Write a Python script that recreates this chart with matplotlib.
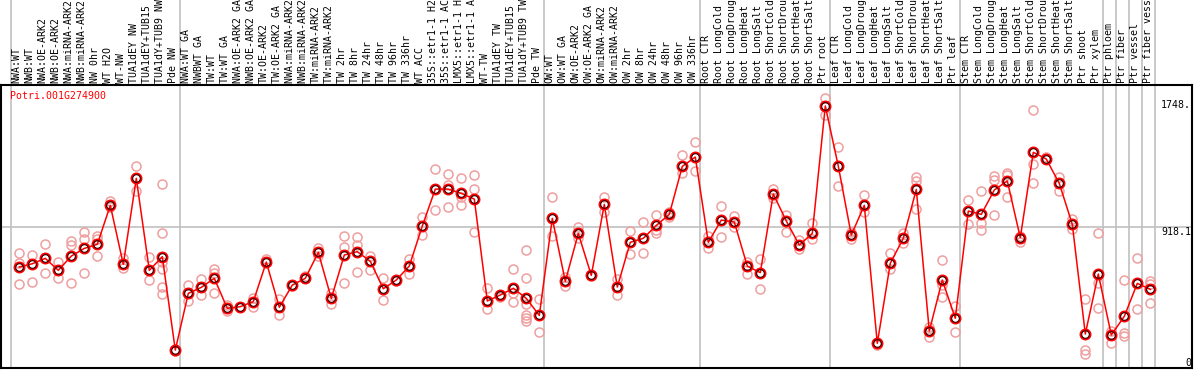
#!/usr/bin/python3
import matplotlib
matplotlib.use('Agg')
import matplotlib.pyplot as plt
import matplotlib.transforms as mtrans

## sample names, grouped as in the reference
labels = ['NWA:WT', 'NWB:WT', 'NWA:OE-ARK2', 'NWB:OE-ARK2', 'NWA:miRNA-ARK2', 'NWB:miRNA-ARK2',
          'NW 0hr', 'WT H2O', 'WT-NW', 'TUA1dEY NW', 'TUA1dEY+TUB15 NW', 'TUA1dY+TUB9 NW', 'Pde NW',
          'NWA:WT GA', 'NWBWT GA', 'TW:WT', 'TW:WT GA', 'NWA:OE-ARK2 GA', 'NWB:OE-ARK2 GA',
          'TW:OE-ARK2', 'TW:OE-ARK2 GA', 'NWA:miRNA-ARK2 GA', 'NWB:miRNA-ARK2 GA', 'TW:miRNA-ARK2',
          'TW:miRNA-ARK2 GA', 'TW 2hr', 'TW 8hr', 'TW 24hr', 'TW 48hr', 'TW 96hr', 'TW 336hr',
          'WT ACC', '35S::etr1-1 H2O', '35S::etr1-1 ACC', 'LMX5::etr1-1 H2O', 'LMX5::etr1-1 ACC',
          'WT-TW', 'TUA1dEY TW', 'TUA1dEY+TUB15 TW', 'TUA1dY+TUB9 TW', 'Pde TW',
          'OW:WT', 'OW:WT GA', 'OW:OE-ARK2', 'OW:OE-ARK2 GA', 'OW:miRNA-ARK2', 'OW:miRNA-ARK2 GA',
          'OW 2hr', 'OW 8hr', 'OW 24hr', 'OW 48hr', 'OW 96hr', 'OW 336hr',
          'Root CTR', 'Root LongCold', 'Root LongDroug', 'Root LongHeat', 'Root LongSalt',
          'Root ShortCold', 'Root ShortDrou', 'Root ShortHeat', 'Root ShortSalt', 'Ptr root',
          'Leaf CTR', 'Leaf LongCold', 'Leaf LongDroug', 'Leaf LongHeat', 'Leaf LongSalt',
          'Leaf ShortCold', 'Leaf ShortDrou', 'Leaf ShortHeat', 'Leaf ShortSalt', 'Ptr leaf',
          'Stem CTR', 'Stem LongCold', 'Stem LongDroug', 'Stem LongHeat', 'Stem LongSalt',
          'Stem ShortCold', 'Stem ShortDrou', 'Stem ShortHeat', 'Stem ShortSalt', 'Ptr shoot',
          'Ptr xylem', 'Ptr phloem', 'Ptr fiber', 'Ptr vessel', 'Ptr fiber vessel']
group_sizes = [13, 28, 12, 10, 10, 11, 1, 1, 1, 1]

## mean expression per sample
means = [659, 680, 715, 637, 730, 780, 807, 1061, 676, 1237, 637, 726, 117,
         487, 526, 585, 389, 400, 433, 691, 396, 541, 585, 754, 454, 737, 759, 696, 517, 574, 665,
         926, 1167, 1167, 1139, 1102, 437, 476, 520, 454, 343,
         976, 565, 878, 604, 1067, 528, 820, 846, 930, 1002, 1315, 1376,
         820, 965, 952, 665, 622, 1135, 959, 802, 878, 1709,
         1317, 867, 1061, 161, 683, 846, 1165, 241, 574, 324,
         1024, 1002, 1161, 1220, 850, 1407, 1363, 1204, 937, 222,
         613, 215, 337, 552, 513]

## replicate values per sample
reps = [[750, 683, 546], [737, 559, 680], [809, 620, 715], [689, 585, 637], [830, 800, 554],
        [887, 841, 617], [863, 841, 728], [1087, 1052], [715, 654], [1315, 1154],
        [726, 572], [1198, 878, 693, 646, 528, 480], [117, 112, 122],
        [539, 437], [578, 474], [646, 622, 487], [411, 372], [400, 395], [454, 400], [713, 691],
        [448, 343], [541, 535], [602, 585], [780, 733], [491, 420], [861, 789, 554],
        [854, 802, 626], [733, 637], [585, 441], [574, 570], [711, 611],
        [983, 865], [1296, 1028], [1263, 1193, 1048], [1237, 1117, 1061], [1257, 1165, 885],
        [522, 387], [461, 476], [643, 491, 428], [767, 585, 415, 346, 326, 309], [452, 233],
        [1113, 863], [591, 537], [920, 846], [604, 600], [1117, 1020], [578, 474], [891, 741],
        [950, 748], [996, 900, 878], [1020, 983], [1389, 1270], [1472, 1283],
        [861, 780], [1059, 854], [991, 922], [693, 613], [709, 513], [1167, 1107], [998, 889],
        [835, 778], [943, 839], [1759, 1650],
        [1439, 1185], [885, 841], [1126, 1017], [161, 150], [748, 643], [878, 817],
        [1243, 1222, 1037], [265, 200], [702, 541, 465], [404, 233],
        [1096, 937], [1154, 943, 900], [1252, 1226, 996], [1274, 1257, 1113], [863, 824],
        [1680, 1330, 1204], [1378, 1363], [1243, 1157], [974, 904], [448, 117, 89],
        [878, 557, 389], [243, 161], [572, 226, 211], [717, 383], [570, 548, 422]]

gene = 'Potri.001G274900'
ref_ticks = [1748, 918.1, 0]
ref_labels = ['1748.', '918.1', '0']

W, H = 1194, 370
fig = plt.figure(figsize=(W / 100, H / 100), dpi=100)
## plot box: x 1..1192 px, y 85..368 px from top
ax = fig.add_axes([1 / W, 2 / H, 1191 / W, 283 / H])

x = list(range(len(means)))
ax.set_xlim((1 - 19.3) / 13, (1192 - 19.3) / 13)
ax.set_ylim(0, 283 / 0.1533)

mono = 'DejaVu Sans Mono'
fs = 7.1

## vertical separators between groups, running through the label band
bounds = [-1]
for n in group_sizes:
    bounds.append(bounds[-1] + n)
for b in bounds:
    ax.axvline(b + 0.36, ymin=0, ymax=(283 + 90) / 283, color='#c0c0c0', lw=1.2,
               clip_on=False, zorder=0)

ax.axhline(918.1, color='#c0c0c0', lw=1.2, zorder=0)

## replicates
for i, r in enumerate(reps):
    ax.plot([i] * len(r), r, 'o', ms=6.5, mfc='none', mec='#ef9f9f', mew=1.1, zorder=2)

## mean line
ax.plot(x, means, '-', color='red', lw=1.1, zorder=3)
ax.plot(x, means, 'o', ms=7, mfc='none', mec='red', mew=1.6, zorder=4)
ax.plot(x, means, 'o', ms=5.5, mfc='none', mec='#300000', mew=0.8, zorder=5)

## sample labels above the plot (long ones run off the top, as in the reference)
trans = mtrans.blended_transform_factory(ax.transData, ax.transAxes)
for i, lab in enumerate(labels):
    ax.text(i - 0.2, 1 + 2 / 283, lab, transform=trans, rotation=90, ha='center',
            va='bottom', family=mono, fontsize=fs, color='black')

## value labels on the right
for v, s in zip(ref_ticks, ref_labels):
    ax.text(1190 / 1191, v, s, transform=mtrans.blended_transform_factory(ax.transAxes, ax.transData),
            ha='right', va='bottom' if v == 0 else 'top', family=mono, fontsize=fs)

ax.text(9 / 1191, 1 - 6 / 283, gene, transform=ax.transAxes, ha='left', va='top',
        family=mono, fontsize=fs, color='red')

ax.set_xticks([])
ax.set_yticks([])
for sp in ax.spines.values():
    sp.set_linewidth(1.5)
    sp.set_color('black')

fig.savefig('out.png', dpi=100)
